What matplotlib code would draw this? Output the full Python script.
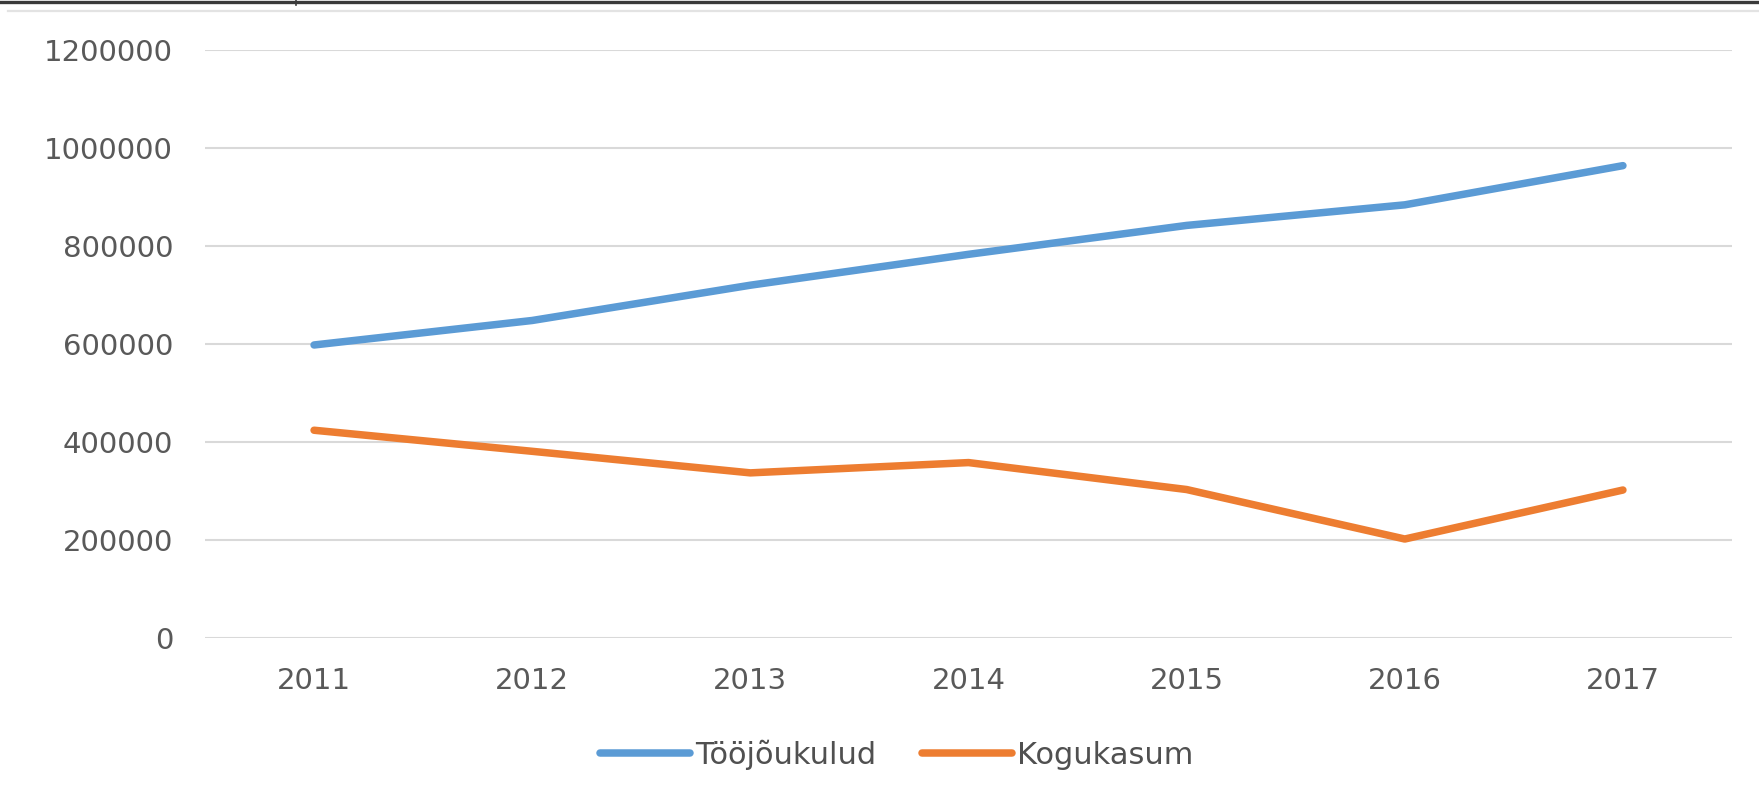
import matplotlib
matplotlib.use("Agg")
import matplotlib.pyplot as plt
from matplotlib.lines import Line2D

plt.rcParams["font.family"] = ["DejaVu Sans"]

# data
years = ["2011", "2012", "2013", "2014", "2015", "2016", "2017"]
toojoukulud = [598000, 648000, 720000, 783000, 842000, 884000, 964000]
kogukasum = [424000, 381000, 337000, 358000, 303000, 202000, 302000]
yticks = [0, 200000, 400000, 600000, 800000, 1000000, 1200000]

blue = "#5B9BD5"
orange = "#ED7D31"
txt_col = "#595959"

W, H = 1759, 801
fig = plt.figure(figsize=(W / 100, H / 100), dpi=100)
ax = fig.add_axes([205 / W, 1 - 638 / H, (1732 - 205) / W, (638 - 50) / H])

x = range(len(years))
ax.plot(x, toojoukulud, color=blue, linewidth=5.4, solid_capstyle="round",
        solid_joinstyle="round", label="Tööjõukulud", zorder=3)
ax.plot(x, kogukasum, color=orange, linewidth=5.4, solid_capstyle="round",
        solid_joinstyle="round", label="Kogukasum", zorder=3)

ax.set_xlim(-0.5, len(years) - 0.5)
ax.set_ylim(0, 1200000)
ax.set_yticks(yticks)
ax.set_yticklabels([str(v) for v in yticks])
ax.set_xticks(list(x))
ax.set_xticklabels(years)
ax.grid(axis="y", color="#d9d9d9", linewidth=1.5, zorder=0)
for s in ax.spines.values():
    s.set_visible(False)
ax.tick_params(axis="both", length=0, labelsize=21, colors=txt_col)
ax.tick_params(axis="y", pad=23)
ax.tick_params(axis="x", pad=21)

leg = fig.legend(loc="center", bbox_to_anchor=(897 / W, 1 - 755 / H), ncol=2,
                 frameon=False, handlelength=2.95, handletextpad=0.16,
                 columnspacing=1.5, prop={"size": 22})
for t in leg.get_texts():
    t.set_color("#505050")

# border remnants along the top edge
fig.add_artist(Line2D([0, 1], [1 - 1.5 / H, 1 - 1.5 / H], color="#3a3a3a", linewidth=2.4))
fig.add_artist(Line2D([296 / W, 296 / W], [1, 1 - 5 / H], color="#3a3a3a", linewidth=1.2))
fig.add_artist(Line2D([8 / W, 1], [1 - 11 / H, 1 - 11 / H], color="#e3e3e3", linewidth=1.6))

fig.savefig("out.png", dpi=100)
